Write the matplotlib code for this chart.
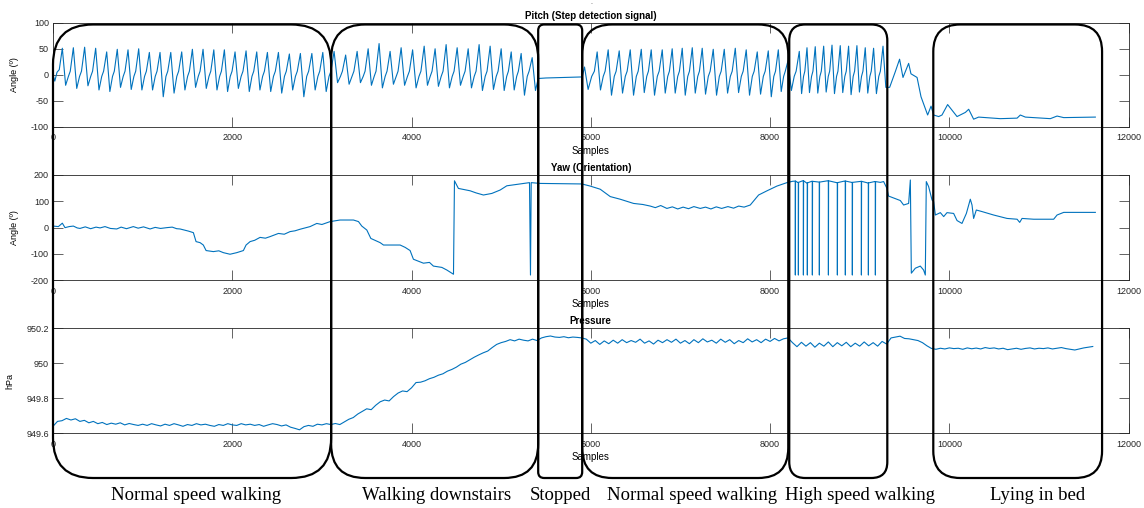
import numpy as np
import matplotlib
matplotlib.use("Agg")
import matplotlib.pyplot as plt
from matplotlib.patches import FancyBboxPatch

plt.rcParams['font.family'] = ['Liberation Sans', 'DejaVu Sans']
plt.rcParams['font.size'] = 6.5
plt.rcParams['axes.unicode_minus'] = False
plt.rcParams['axes.linewidth'] = 0.6
plt.rcParams['axes.edgecolor'] = '#262626'
plt.rcParams['xtick.direction'] = 'in'
plt.rcParams['ytick.direction'] = 'in'
plt.rcParams['xtick.top'] = True
plt.rcParams['ytick.right'] = True
plt.rcParams['xtick.major.size'] = 7.5
plt.rcParams['ytick.major.size'] = 7.5
plt.rcParams['xtick.major.width'] = 0.5
plt.rcParams['ytick.major.width'] = 0.5
plt.rcParams['xtick.color'] = '#262626'
plt.rcParams['ytick.color'] = '#262626'
plt.rcParams['xtick.major.pad'] = 4.5
plt.rcParams['ytick.major.pad'] = 3

LINE = '#0072BD'

# ---- pitch: step peaks (sample, peak value, following trough value) ----
pitch_start_s = [0, 20, 45, 70]
pitch_start_v = [0, -12, 5, 10]

walk1_peaks = [104, 227, 353, 476, 599, 717, 837, 956, 1075, 1194, 1314, 1436, 1555,
               1674, 1794, 1912, 2031, 2154, 2273, 2392, 2515, 2637, 2760, 2888, 3010,
               3136, 3265, 3393, 3516, 3638, 3761, 3884, 4012, 4141, 4263, 4386, 4509,
               4632, 4754, 4877, 5000, 5112, 5223, 5346]
walk1_peak_v = [51, 52, 53, 51, 44, 49, 48, 50, 43, 43, 43, 44, 49,
                49, 48, 48, 44, 46, 44, 43, 43, 40, 41, 41, 43,
                45, 38, 45, 50, 60, 45, 52, 48, 55, 50, 58, 52,
                50, 58, 55, 50, 44, 41, 33]
walk1_trough_v = [-20, -26, -21, -29, -32, -24, -28, -29, -29, -42, -35, -29, -24,
                  -26, -29, -32, -26, -32, -29, -32, -35, -29, -42, -29, -32,
                  -15, -18, -15, -20, -25, -18, -20, -25, -20, -22, -25, -20,
                  -25, -30, -28, -30, -29, -39, -30]

stop_s = [5413, 5500, 5700, 5904, 5930, 5970, 6010, 6040]
stop_v = [-7, -6, -5, -4, 15, -28, -3, 7]

walk2_peaks = [6071, 6194, 6317, 6440, 6563, 6674, 6797, 6908, 7020, 7132, 7243, 7366,
               7489, 7612, 7734, 7857, 7980, 8092, 8200,
               8326, 8412, 8504, 8598, 8691, 8783, 8876, 8969, 9062, 9155, 9260]
walk2_peak_v = [44, 48, 46, 48, 49, 48, 48, 50, 51, 52, 51, 49,
                49, 51, 48, 44, 46, 48, 27,
                45, 52, 54, 55, 57, 56, 55, 56, 52, 51, 55]
walk2_trough_v = [-29, -39, -35, -39, -34, -39, -35, -35, -39, -35, -37, -39,
                  -35, -34, -39, -37, -42, -32, -30,
                  -36, -34, -35, -33, -36, -34, -38, -33, -35, -36, -24]

pitch_end_s = [9334, 9397, 9445, 9483, 9546, 9572, 9640, 9684, 9758, 9796, 9825, 9881,
               9918, 9981, 10086, 10179, 10216, 10271, 10327, 10569, 10756, 10792,
               10848, 11127, 11202, 11276, 11629]
pitch_end_v = [-24, 6, 30, -5, 22, 2, -5, -42, -77, -60, -77, -80,
               -77, -57, -80, -72, -66, -85, -81, -84, -83, -77,
               -81, -84, -79, -82, -81]

# ---- yaw: vertices (sample, angle) ----
yaw1_s = [0, 60, 104, 134, 180, 227, 270, 301, 360, 420, 480, 525, 580, 640, 711, 760,
          820, 896, 950, 1010, 1083, 1140, 1200, 1269, 1330, 1380, 1417, 1510, 1566,
          1596, 1641, 1677, 1708, 1789, 1850, 1901, 1975, 2050, 2124, 2154, 2199, 2250,
          2310, 2370, 2422, 2515, 2580, 2645, 2700, 2757, 2868, 2943, 3000, 3092, 3203,
          3352, 3408, 3445, 3501, 3546, 3650, 3687, 3873, 3929, 3984, 4021, 4133, 4200,
          4244, 4338, 4394, 4468, 4479, 4523, 4654, 4720, 4802, 4896, 4989, 5063, 5212,
          5316, 5327, 5335, 5435, 5900, 5993, 6105, 6217, 6328, 6477, 6580, 6663, 6720,
          6780, 6849, 6910, 6970, 7030, 7090, 7150, 7221, 7280, 7340, 7400, 7460, 7530,
          7593, 7650, 7710, 7779, 7872, 7966, 8077, 8188, 8250]
yaw1_v = [6, 4, 17, 0, 4, 6, -1, -3, 3, -4, 2, -1, 4, -3, -5, 2,
          -4, 4, -2, 3, -5, 1, -3, 0, 2, -4, -5, -13, -19,
          -53, -57, -66, -87, -91, -88, -95, -101, -95, -87, -66, -53, -48,
          -37, -40, -34, -22, -25, -15, -12, -6, 4, 16, 12, 23, 29,
          29, 23, 6, -9, -41, -57, -66, -66, -75, -87, -120, -135, -132,
          -146, -151, -161, -177, 178, 149, 140, 132, 124, 130, 143, 159, 166,
          171, -180, 171, 168, 166, 158, 146, 118, 108, 92, 88, 82, 76,
          84, 73, 79, 71, 78, 72, 80, 73, 78, 71, 79, 73, 80,
          74, 82, 78, 86, 124, 140, 158, 171, 176]
yaw_spikes = [8281, 8315, 8371, 8415, 8471, 8549, 8650, 8750, 8839, 8917, 9018, 9096, 9174]
yaw_spike_top = [177, 172, 178, 170, 176, 173, 178, 171, 177, 172, 176, 170, 175]
yaw2_s = [9230, 9267, 9304, 9322, 9453, 9490, 9546, 9565, 9576, 9621, 9676, 9713, 9732,
          9743, 9769, 9807, 9825, 9844, 9900, 9937, 9974, 10048, 10086, 10141, 10190,
          10234, 10253, 10271, 10301, 10365, 10494, 10644, 10756, 10785, 10811, 10941,
          11164, 11202, 11276, 11629]
yaw2_v = [172, 175, 149, 120, 103, 86, 92, 181, -173, -154, -146, -161, -180,
          175, 156, 105, 99, 48, 57, 42, 57, 54, 27, 16, 54,
          108, 86, 35, 67, 61, 48, 35, 32, 20, 35, 32,
          32, 48, 58, 58]

# ---- pressure (hPa), one value every 50 samples per section ----
pres_sections = [
    (0, [949.640, 949.668, 949.672, 949.685, 949.676, 949.683, 949.668, 949.674, 949.660, 949.668,
         949.655, 949.662, 949.650, 949.658, 949.652, 949.660, 949.648, 949.656, 949.650, 949.645,
         949.652, 949.645, 949.655, 949.648, 949.642, 949.652, 949.645, 949.655, 949.648, 949.640,
         949.650, 949.645, 949.655, 949.648, 949.652, 949.645, 949.640, 949.650, 949.645, 949.655,
         949.648, 949.645, 949.655, 949.648, 949.652, 949.645, 949.650, 949.640, 949.648, 949.655,
         949.650, 949.642, 949.648, 949.635, 949.628, 949.620, 949.638, 949.645, 949.640, 949.652,
         949.648, 949.655, 949.650]),
    (3150, [949.656, 949.650, 949.665, 949.680, 949.690, 949.710, 949.725, 949.740, 949.735, 949.760,
            949.780, 949.790, 949.785, 949.810, 949.830, 949.842, 949.838, 949.860, 949.890, 949.892,
            949.900, 949.912, 949.920, 949.932, 949.940, 949.955, 949.965, 949.978, 949.995, 950.005,
            950.020, 950.035, 950.048, 950.060, 950.070, 950.090, 950.108, 950.118, 950.125, 950.135,
            950.128, 950.138, 950.132, 950.128, 950.138, 950.130]),
    (5450, [950.145, 950.152, 950.156, 950.150, 950.148, 950.152, 950.146, 950.150, 950.148, 950.145]),
    (5950, [950.138, 950.115, 950.130, 950.108, 950.128, 950.112, 950.132, 950.115, 950.135, 950.118,
            950.130, 950.120, 950.138, 950.115, 950.128, 950.110, 950.132, 950.118, 950.135, 950.120,
            950.138, 950.115, 950.130, 950.112, 950.135, 950.118, 950.140, 950.122, 950.132, 950.115,
            950.138, 950.120, 950.135, 950.112, 950.130, 950.118, 950.140, 950.122, 950.135, 950.118,
            950.138, 950.125, 950.142, 950.128, 950.140, 950.145]),
    (8250, [950.118, 950.095, 950.120, 950.098, 950.118, 950.092, 950.115, 950.098, 950.122, 950.095,
            950.118, 950.100, 950.120, 950.095, 950.115, 950.098, 950.122, 950.100, 950.118, 950.098,
            950.125, 950.110]),
    (9350, [950.145, 950.150, 950.155, 950.142, 950.140, 950.135, 950.130, 950.118, 950.100, 950.085]),
    (9850, [950.080, 950.086, 950.082, 950.088, 950.084, 950.086, 950.080, 950.088, 950.083, 950.087,
            950.082, 950.090, 950.085, 950.088, 950.082, 950.086, 950.078, 950.082, 950.086, 950.080,
            950.085, 950.088, 950.082, 950.086, 950.084, 950.088, 950.082, 950.086, 950.090, 950.084,
            950.080, 950.076, 950.082, 950.088, 950.092, 950.096]),
]

# ---- activity segments (sample ranges) and labels ----
seg_start = [0, 3103, 5413, 5904, 8214, 9821]
seg_end = [3103, 5413, 5904, 8203, 9308, 11704]
seg_radius = [40, 34, 6, 30, 16, 27]
seg_labels = ['Normal speed walking', 'Walking downstairs', 'Stopped',
              'Normal speed walking', 'High speed walking', 'Lying in bed']
label_center = [1596, 4275, 5658, 7132, 9007, 10982]


def steps(peaks, peak_v, trough_v):
    xs, ys = [], []
    for i, p in enumerate(peaks):
        xs.append(p)
        ys.append(peak_v[i])
        d = peaks[i + 1] - p if i < len(peaks) - 1 else peaks[i] - peaks[i - 1]
        xs.append(p + 0.3 * d)
        ys.append(trough_v[i])
        if i < len(peaks) - 1:
            xs += [p + 0.55 * d, p + 0.72 * d]
            ys += [-3, 7]
    return xs, ys


w1x, w1y = steps(walk1_peaks, walk1_peak_v, walk1_trough_v)
w2x, w2y = steps(walk2_peaks, walk2_peak_v, walk2_trough_v)
pitch_s = pitch_start_s + w1x + stop_s + w2x + pitch_end_s
pitch_v = pitch_start_v + w1y + stop_v + w2y + pitch_end_v

yaw_s = list(yaw1_s)
yaw_v = list(yaw1_v)
for s, top in zip(yaw_spikes, yaw_spike_top):
    yaw_s += [s - 8, s, s + 1, s + 3]
    yaw_v += [top, top, -180, top]
yaw_s += yaw2_s
yaw_v += yaw2_v

pres_s, pres_v = [], []
for start, vals in pres_sections:
    pres_s += list(start + 50 * np.arange(len(vals)))
    pres_v += vals

fig = plt.figure(figsize=(11.44, 5.08), dpi=100)
W, H = 1144, 508
left, width = 53 / W, 1075.6 / W
ax1 = fig.add_axes([left, 1 - 127 / H, width, 104.3 / H])
ax2 = fig.add_axes([left, 1 - 280.3 / H, width, 105.3 / H])
ax3 = fig.add_axes([left, 1 - 433.3 / H, width, 105 / H])

ax1.plot(pitch_s, pitch_v, color=LINE, lw=0.8)
ax1.set_ylim(-100, 100)
ax1.set_yticks([-100, -50, 0, 50, 100])
ax1.set_ylabel('Angle (º)', fontsize=6.5)
ax1.set_title('Pitch (Step detection signal)', fontsize=7, fontweight='bold', pad=3)

ax2.plot(yaw_s, yaw_v, color=LINE, lw=0.8)
ax2.set_ylim(-200, 200)
ax2.set_yticks([-200, -100, 0, 100, 200])
ax2.set_ylabel('Angle (º)', fontsize=6.5)
ax2.set_title('Yaw (Orientation)', fontsize=7, fontweight='bold', pad=3)

ax3.plot(pres_s, pres_v, color=LINE, lw=0.8)
ax3.set_ylim(949.6, 950.2)
ax3.set_yticks([949.6, 949.8, 950.0, 950.2])
ax3.set_yticklabels(['949.6', '949.8', '950', '950.2'])
ax3.set_ylabel('hPa', fontsize=6.5)
ax3.set_title('Pressure', fontsize=7, fontweight='bold', pad=3)

for ax, ylab_x in [(ax1, -0.0316), (ax2, -0.0316), (ax3, -0.0363)]:
    ax.set_xlim(0, 12000)
    ax.set_xticks(np.arange(0, 12001, 2000))
    ax.set_xlabel('Samples', fontsize=7)
    ax.xaxis.set_label_coords(0.5, -0.18)
    ax.yaxis.set_label_coords(ylab_x, 0.5)

fig.text(591.7 / W, 1 - 3 / H, '.', fontsize=5, ha='center', va='center', color='#444444')

# overlay in pixel units for the rounded activity boxes
ov = fig.add_axes([0, 0, 1, 1], zorder=10)
ov.set_xlim(0, W)
ov.set_ylim(0, H)
ov.axis('off')
ov.patch.set_alpha(0)

box_top, box_bottom = H - 24.5, H - 478
for s0, s1, r, lab, lc in zip(seg_start, seg_end, seg_radius, seg_labels, label_center):
    x0 = ax1.transData.transform((s0, 0))[0]
    x1 = ax1.transData.transform((s1, 0))[0]
    ov.add_patch(FancyBboxPatch((x0, box_bottom), x1 - x0, box_top - box_bottom,
                                boxstyle=f"round,pad=0,rounding_size={r}",
                                fill=False, ec='black', lw=1.6))
    xc = ax1.transData.transform((lc, 0))[0]
    ov.text(xc, H - 496, lab, ha='center', va='center', fontsize=13.5,
            family=['Liberation Serif', 'DejaVu Serif'])

fig.savefig('out.png', dpi=100)
